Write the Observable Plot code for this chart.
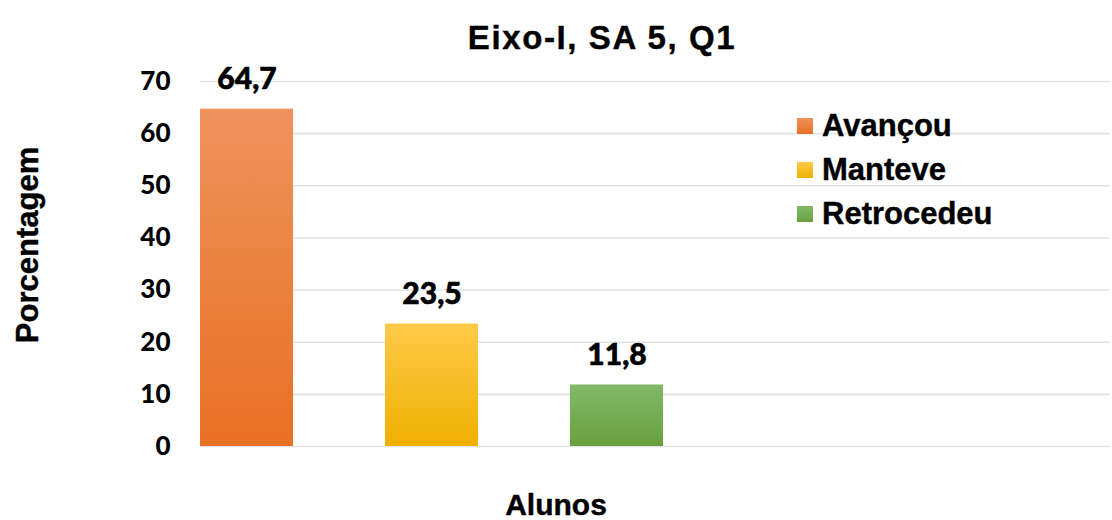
<!DOCTYPE html>
<html><head><meta charset="utf-8">
<script src="https://cdn.jsdelivr.net/npm/d3@7"></script>
<script src="https://cdn.jsdelivr.net/npm/@observablehq/plot@0.6"></script>
<style>
body{margin:0;background:#fff;}
#wrap{position:relative;width:1112px;height:520px;overflow:hidden;font-family:"Liberation Sans",Arial,sans-serif;font-weight:bold;color:#000;}
.abs{position:absolute;white-space:nowrap;-webkit-text-stroke:0.4px #000;}
#title{left:602px;top:38px;transform:translate(-50%,-50%);font-size:33px;line-height:34px;letter-spacing:1.6px;}
#xlabel{left:556px;top:505px;transform:translate(-50%,-50%);font-size:30px;line-height:28px;}
#ylabel{left:28px;top:245px;transform:translate(-50%,-50%) rotate(-90deg);font-size:31px;line-height:32px;}
#chart{position:absolute;left:0;top:60px;}
.leg{position:absolute;left:797px;display:flex;align-items:center;transform:translateY(-50%);font-size:31px;line-height:32px;-webkit-text-stroke:0.4px #000;}
.leg .sw{width:16px;height:16px;margin-right:9px;}
</style></head>
<body>
<div id="wrap">
  <div id="title" class="abs">Eixo-I, SA 5, Q1</div>
  <div id="ylabel" class="abs">Porcentagem</div>
  <div id="xlabel" class="abs">Alunos</div>
  <div id="chart"></div>
</div>
<script>
const categorias = ["Avançou", "Manteve", "Retrocedeu"];
const valores = [64.7, 23.5, 11.8];
const rotulos = ["64,7", "23,5", "11,8"];
const yTicks = [0, 10, 20, 30, 40, 50, 60, 70];
const corTopo = ["#EF925C", "#FFC94A", "#82B968"];
const corBase = ["#E87022", "#EFB000", "#68A03F"];

const dados = categorias.map((c, i) => ({cat: c, val: valores[i], rot: rotulos[i], idx: i}));

const plot = Plot.plot({
  width: 1112,
  height: 400,
  marginTop: 21,
  marginBottom: 14,
  marginLeft: 200,
  marginRight: 2,
  x: {domain: categorias, range: [200, 663], paddingInner: 0.5, paddingOuter: 0, axis: null},
  y: {domain: [0, 70], axis: null},
  color: {type: "identity"},
  marks: [
    Plot.ruleY(yTicks, {stroke: "#dfe3e8", strokeWidth: 1.6}),
    Plot.barY(dados, {x: "cat", y: "val", fill: d => `url(#grad${d.idx})`,
      style: "filter: drop-shadow(1px 1px 1.5px rgba(0,0,0,0.25))"}),
    Plot.text(dados, {x: "cat", y: "val", text: "rot", dy: -20, lineAnchor: "bottom",
      fontSize: 30, fontWeight: 900, fontFamily: "Lato, sans-serif", fill: "#000",
      stroke: "#000", strokeWidth: 0.6}),
    Plot.axisY({ticks: yTicks, tickSize: 0, tickPadding: 30, label: null,
      fontSize: 26, fontWeight: 900, fontFamily: "Lato, sans-serif", fill: "#000",
      stroke: "#000", strokeWidth: 0.5})
  ]
});

const svg = d3.select(plot);
const defs = svg.insert("defs", ":first-child");
categorias.forEach((c, i) => {
  const g = defs.append("linearGradient").attr("id", `grad${i}`)
    .attr("x1", 0).attr("y1", 0).attr("x2", 0).attr("y2", 1);
  g.append("stop").attr("offset", "0%").attr("stop-color", corTopo[i]);
  g.append("stop").attr("offset", "100%").attr("stop-color", corBase[i]);
});
document.getElementById("chart").appendChild(plot);

const wrap = document.getElementById("wrap");
const legTops = [126, 170, 214];
categorias.forEach((c, i) => {
  const el = document.createElement("div");
  el.className = "leg";
  el.style.top = legTops[i] + "px";
  const sw = document.createElement("div");
  sw.className = "sw";
  sw.style.background = `linear-gradient(${corTopo[i]}, ${corBase[i]})`;
  const t = document.createElement("span");
  t.textContent = c;
  el.appendChild(sw); el.appendChild(t);
  wrap.appendChild(el);
});
</script>
</body></html>
